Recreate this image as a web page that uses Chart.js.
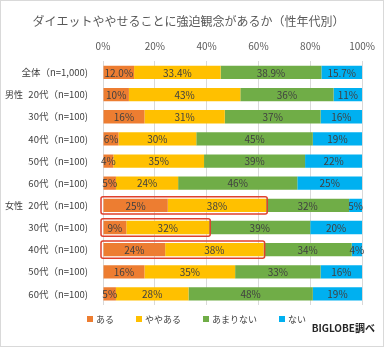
<!DOCTYPE html>
<html lang="ja">
<head>
<meta charset="utf-8">
<script src="https://cdn.jsdelivr.net/npm/chart.js@4"></script>
<style>
  html, body { margin: 0; padding: 0; background: #fff; }
  #wrap { position: relative; width: 384px; height: 349px; font-family: "Noto Sans CJK JP", sans-serif; }
  #frame { position: absolute; left: 0; top: 0; width: 382px; height: 345px; border: 1px solid #d9d9d9; pointer-events: none; }
  #legend { position: absolute; left: 9px; right: 0; top: 313px; display: flex; justify-content: center; gap: 22px; font-size: 9px; color: #404040; }
  #legend span.box { display: inline-block; width: 6px; height: 6px; margin-right: 3px; vertical-align: 1px; }
  #source { position: absolute; right: 9px; top: 320px; font-weight: bold; font-size: 10px; color: #262626; }
</style>
</head>
<body>
<div id="wrap">
  <canvas id="chart" width="384" height="349"></canvas>
  <div id="legend"></div>
  <div id="source">BIGLOBE調べ</div>
  <div id="frame"></div>
</div>
<script>
const categories = [
  '全体（n=1,000)',
  '20代（n=100)', '30代（n=100)', '40代（n=100)', '50代（n=100)', '60代（n=100)',
  '20代（n=100)', '30代（n=100)', '40代（n=100)', '50代（n=100)', '60代（n=100)'
];
const groups = ['', '男性', '', '', '', '', '女性', '', '', '', ''];
const decimals = [1, 0, 0, 0, 0, 0, 0, 0, 0, 0, 0];

const aru = [12.0, 10, 16, 6, 4, 5, 25, 9, 24, 16, 5];
const yayaAru = [33.4, 43, 31, 30, 35, 24, 38, 32, 38, 35, 28];
const amariNai = [38.9, 36, 37, 45, 39, 46, 32, 39, 34, 33, 48];
const nai = [15.7, 11, 16, 19, 22, 25, 5, 20, 4, 16, 19];

// rows outlined in red (ある + ややある)
const highlighted = [6, 7, 8];

const xTicks = [0, 20, 40, 60, 80, 100];

const FONT = '"Noto Sans CJK JP", sans-serif';

// value labels in the middle of each segment
const segmentLabels = {
  id: 'segmentLabels',
  afterDatasetsDraw(chart) {
    const ctx = chart.ctx;
    ctx.save();
    ctx.font = '10px ' + FONT;
    ctx.fillStyle = '#404040';
    ctx.textAlign = 'center';
    ctx.textBaseline = 'middle';
    chart.data.datasets.forEach((ds, di) => {
      chart.getDatasetMeta(di).data.forEach((bar, i) => {
        const x = (bar.x + bar.base) / 2;
        ctx.fillText(ds.data[i].toFixed(decimals[i]) + '%', x, bar.y + 0.5);
      });
    });
    ctx.restore();
  }
};

// red rounded frame around the first two segments
const highlightBox = {
  id: 'highlightBox',
  afterDatasetsDraw(chart) {
    const ctx = chart.ctx;
    const xs = chart.scales.x;
    const bars = chart.getDatasetMeta(0).data;
    ctx.save();
    ctx.strokeStyle = '#e0402c';
    ctx.lineWidth = 1.5;
    highlighted.forEach(i => {
      const bar = bars[i];
      const left = xs.getPixelForValue(0) - 2;
      const right = xs.getPixelForValue(aru[i] + yayaAru[i]) + 1;
      const top = bar.y - bar.height / 2 - 2;
      ctx.beginPath();
      ctx.roundRect(left, top, right - left, bar.height + 4, 2);
      ctx.stroke();
    });
    ctx.restore();
  }
};

// 男性 / 女性 group names on the far left
const groupLabels = {
  id: 'groupLabels',
  afterDraw(chart) {
    const ctx = chart.ctx;
    const ys = chart.scales.y;
    ctx.save();
    ctx.font = '9px ' + FONT;
    ctx.fillStyle = '#404040';
    ctx.textAlign = 'left';
    ctx.textBaseline = 'middle';
    groups.forEach((g, i) => {
      if (g) ctx.fillText(g, 5, ys.getPixelForValue(i));
    });
    ctx.restore();
  }
};

const chart = new Chart(document.getElementById('chart'), {
  type: 'bar',
  data: {
    labels: categories,
    datasets: [
      { label: 'ある', data: aru, backgroundColor: '#ed7d31' },
      { label: 'ややある', data: yayaAru, backgroundColor: '#ffc000' },
      { label: 'あまりない', data: amariNai, backgroundColor: '#70ad47' },
      { label: 'ない', data: nai, backgroundColor: '#00b0f0' }
    ]
  },
  options: {
    indexAxis: 'y',
    responsive: false,
    animation: false,
    layout: { padding: { left: 12, right: 19, top: 0, bottom: 44 } },
    datasets: {
      bar: { categoryPercentage: 1, barPercentage: 0.6, borderWidth: 0 }
    },
    scales: {
      x: {
        position: 'top',
        stacked: true,
        min: 0,
        max: 100,
        afterBuildTicks: s => { s.ticks = xTicks.map(v => ({ value: v })); },
        afterFit: s => { s.height = 25; },
        ticks: {
          padding: 9,
          color: '#595959',
          font: { family: FONT, size: 10 },
          callback: v => v + '%'
        },
        grid: { color: '#d9d9d9', drawTicks: false },
        border: { display: false }
      },
      y: {
        stacked: true,
        afterFit: s => { s.width = 91; },
        ticks: {
          padding: 15,
          color: '#404040',
          font: { family: FONT, size: 9.5 }
        },
        grid: { display: false, drawTicks: false },
        border: { display: false }
      }
    },
    plugins: {
      legend: { display: false },
      tooltip: { enabled: false },
      title: {
        display: true,
        text: 'ダイエットややせることに強迫観念があるか（性年代別）',
        color: '#595959',
        font: { family: FONT, size: 12, weight: 'normal' },
        padding: { top: 14, bottom: 8 }
      }
    }
  },
  plugins: [highlightBox, segmentLabels, groupLabels]
});

// legend built from the datasets
const legendEl = document.getElementById('legend');
chart.data.datasets.forEach(ds => {
  const item = document.createElement('div');
  const box = document.createElement('span');
  box.className = 'box';
  box.style.background = ds.backgroundColor;
  item.appendChild(box);
  item.appendChild(document.createTextNode(ds.label));
  legendEl.appendChild(item);
});
</script>
</body>
</html>
